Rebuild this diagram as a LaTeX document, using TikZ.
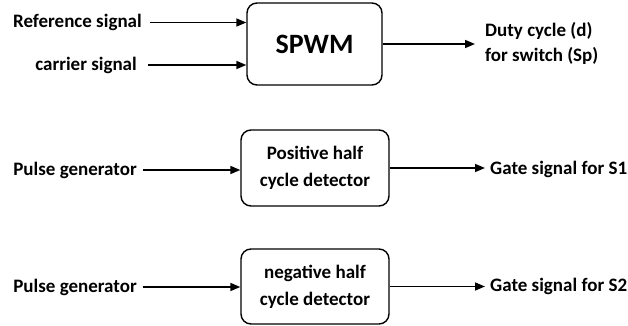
\documentclass[tikz,border=0pt]{standalone}
\usepackage{fontspec}
\setmainfont{Carlito}
\usetikzlibrary{arrows.meta, positioning}
\tikzset{
  block/.style={rectangle, rounded corners=10pt, draw=black, line width=1.4pt, text centered, align=center, inner sep=0, font=\bfseries\fontsize{19}{27}\selectfont},
  signal/.style={inner sep=0, font=\bfseries\fontsize{19}{25}\selectfont},
  flow/.style={-{Triangle[length=10pt, width=8pt]}, line width=1.6pt}
}

\begin{document}
\begin{tikzpicture}[x=1pt, y=-1pt]
      \useasboundingbox (0, 0) rectangle (628, 326);

      % SPWM part
      \node[block, minimum width=135pt, minimum height=82pt, font=\bfseries\fontsize{28}{30}\selectfont](spwm) at (314.5, 44){SPWM};
      \node[signal, anchor=east](ref) at (142, 22.5){Reference signal};
      \node[signal, anchor=east](car) at (137, 65){carrier signal};
      \node[signal, anchor=west, align=left](duty) at (485, 43){Duty cycle (d)\\for switch (Sp)};
      \draw[flow]([xshift=8pt]ref.east) -- (ref.east -| spwm.west);
      \draw[flow]([xshift=11pt]car.east) -- (car.east -| spwm.west);
      \draw[flow](spwm.east) -- ([xshift=-10pt]spwm.east -| duty.west);

      % positive half cycle
      \node[block, minimum width=148pt, minimum height=76pt](pos) at (315, 168){Positive half\\cycle detector};
      \node[signal, anchor=east](pg1) at (137, 170){Pulse generator};
      \node[signal, anchor=west](gs1) at (490, 169){Gate signal for S1};
      \draw[flow]([xshift=6pt]pg1.east) -- (pg1.east -| pos.west);
      \draw[flow](pos.east) -- ([xshift=-5pt]pos.east -| gs1.west);

      % negative half cycle
      \node[block, minimum width=148pt, minimum height=75pt](neg) at (315, 286.5){negative half\\cycle detector};
      \node[signal, anchor=east](pg2) at (137, 287){Pulse generator};
      \node[signal, anchor=west](gs2) at (490, 286){Gate signal for S2};
      \draw[flow]([xshift=6pt]pg2.east) -- (pg2.east -| neg.west);
      \draw[flow](neg.east) -- ([xshift=-5pt]neg.east -| gs2.west);
    \end{tikzpicture}
\end{document}
